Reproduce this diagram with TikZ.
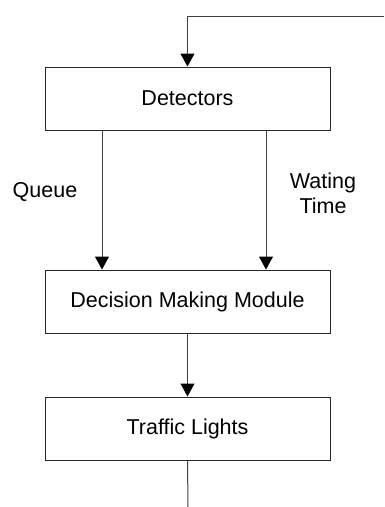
\documentclass[tikz,border=0pt]{standalone}
\usepackage{fontspec}
\setmainfont{Liberation Sans}
\usetikzlibrary{arrows.meta}
\begin{document}
\begin{tikzpicture}[x=1pt,y=-1pt,
  box/.style={draw=black!85, line width=1pt, minimum width=285pt, minimum height=63pt, inner sep=0pt, font=\fontsize{21.5}{25}\selectfont},
  conn/.style={draw=black!75, line width=1pt},
  arr/.style={conn, -{Triangle[width=14pt,length=13pt,color=black,fill=black]}},
  lbl/.style={font=\fontsize{21.5}{25}\selectfont, align=center, inner sep=0pt}]
\useasboundingbox (0,0) rectangle (384,507);
\node[box] (det) at (187.5,98.5) {Detectors};
\node[box] (dec) at (187.5,301.5) {Decision Making Module};
\node[box] (tl) at (187.5,428.5) {Traffic Lights};
\coordinate (in) at (384,16);
\coordinate (out) at (188,507);
\draw[arr] (in) -| (det.north);
\draw[arr] ([xshift=-85.5pt]det.south) -- ([xshift=-85.5pt]dec.north);
\draw[arr] ([xshift=78.5pt]det.south) -- ([xshift=78.5pt]dec.north);
\draw[arr] (dec.south) -- (tl.north);
\draw[conn] (tl.south) -- (out);
\node[lbl] (q) at (45,192) {Queue};
\node[lbl] (w) at (323,193) {Wating\\Time};
\end{tikzpicture}
\end{document}
